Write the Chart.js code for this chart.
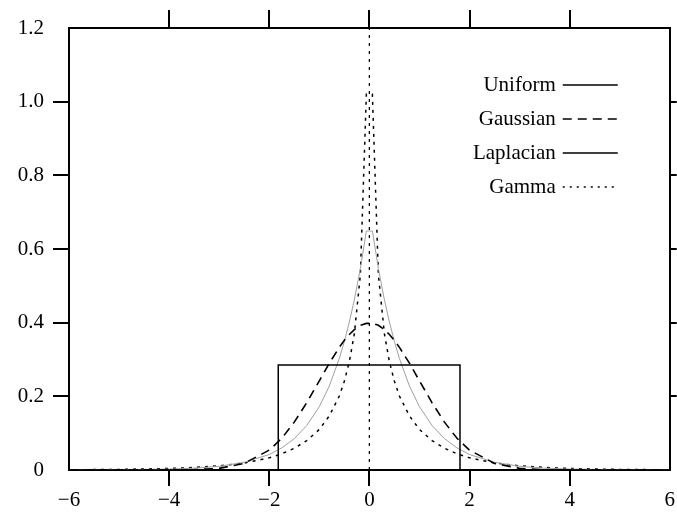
<!DOCTYPE html>
<html>
<head>
<meta charset="utf-8">
<script src="https://cdn.jsdelivr.net/npm/chart.js@4.4.0/dist/chart.umd.min.js"></script>
<style>
body { margin: 0; background: #fff; }
#main { width: 677px; height: 516px; }
</style>
</head>
<body>
<div id="main"></div>
<script>
// values
var xGrid = [-6, -5, -4, -3.5, -3, -2.5, -2, -1.75, -1.5, -1.25, -1, -0.8, -0.6, -0.5, -0.4, -0.3, -0.18, -0.06,
             0.06, 0.18, 0.3, 0.4, 0.5, 0.6, 0.8, 1, 1.25, 1.5, 1.75, 2, 2.5, 3, 3.5, 4, 5, 6];

var gaussianY = [0, 0, 0.0001, 0.0009, 0.0044, 0.018, 0.054, 0.086, 0.13, 0.183, 0.242, 0.29, 0.333, 0.352, 0.368, 0.381, 0.393, 0.398,
                 0.398, 0.393, 0.381, 0.368, 0.352, 0.333, 0.29, 0.242, 0.183, 0.13, 0.086, 0.054, 0.018, 0.0044, 0.0009, 0.0001, 0, 0];

var laplacianY = [0.0001, 0.0006, 0.0025, 0.005, 0.01, 0.021, 0.042, 0.06, 0.085, 0.121, 0.172, 0.228, 0.303, 0.349, 0.402, 0.462, 0.547, 0.649,
                  0.649, 0.547, 0.462, 0.402, 0.349, 0.303, 0.228, 0.172, 0.121, 0.085, 0.06, 0.042, 0.021, 0.01, 0.005, 0.0025, 0.0006, 0.0001];

var gammaY = [0.0006, 0.0015, 0.0041, 0.0068, 0.0113, 0.019, 0.033, 0.044, 0.059, 0.08, 0.11, 0.147, 0.201, 0.241, 0.294, 0.37, 0.53, 1.02,
              1.02, 0.53, 0.37, 0.294, 0.241, 0.201, 0.147, 0.11, 0.08, 0.059, 0.044, 0.033, 0.019, 0.0113, 0.0068, 0.0041, 0.0015, 0.0006];

var uniformX = [-6, -1.82, -1.82, 1.81, 1.81, 6];
var uniformY = [0, 0, 0.285, 0.285, 0, 0];

// gamma goes to infinity at 0 -> vertical dotted line
var spikeX = [0, 0];
var spikeY = [0, 1.2];

var xTicks = [-6, -4, -2, 0, 2, 4, 6];
var yTicks = [0, 0.2, 0.4, 0.6, 0.8, 1.0, 1.2];

const main = document.getElementById('main');
var canvas = document.createElement('canvas');
canvas.width = 677;
canvas.height = 516;
main.appendChild(canvas);

function pairs(xs, ys) {
  return xs.map(function (x, i) { return { x: x, y: ys[i] }; });
}

function isEdge(v, lo, hi) {
  return Math.abs(v - lo) < 1e-9 || Math.abs(v - hi) < 1e-9;
}

var serif = { family: '"Liberation Serif", "Times New Roman", serif', size: 21 };

// legend: text on the left, line sample on the right, inside the plot
var legendBox = {
  id: 'legendBox',
  afterDraw: function (chart) {
    var ctx = chart.ctx;
    var area = chart.chartArea;
    ctx.save();
    ctx.font = '21px "Liberation Serif"';
    ctx.textAlign = 'right';
    ctx.textBaseline = 'middle';
    var row = 0;
    chart.data.datasets.forEach(function (ds) {
      if (!ds.label) return;
      var y = area.top + 57 + row * 34;
      ctx.fillStyle = '#000';
      ctx.fillText(ds.label, area.right - 114, y);
      ctx.strokeStyle = ds.legendColor || ds.borderColor;
      ctx.lineWidth = 1.5;
      ctx.setLineDash(ds.legendDash || ds.borderDash || []);
      ctx.beginPath();
      ctx.moveTo(area.right - 107, y);
      ctx.lineTo(area.right - 52, y);
      ctx.stroke();
      row++;
    });
    ctx.restore();
  }
};

function tickGrid(len, lo, hi) {
  return {
    drawOnChartArea: false,
    drawTicks: true,
    tickLength: len,
    lineWidth: 2,
    color: function (c) { return isEdge(c.tick.value, lo, hi) ? 'rgba(0,0,0,0)' : '#000'; }
  };
}

var border = { display: true, color: '#000', width: 2 };

var myChart = new Chart(canvas, {
  type: 'line',
  data: {
    datasets: [
      {
        label: 'Uniform',
        data: pairs(uniformX, uniformY),
        borderColor: '#000',
        borderWidth: 1.5
      },
      {
        label: 'Gaussian',
        data: pairs(xGrid, gaussianY),
        borderColor: '#000',
        borderWidth: 1.6,
        borderDash: [9, 6]
      },
      {
        label: 'Laplacian',
        data: pairs(xGrid, laplacianY),
        borderColor: '#a0a0a0',
        legendColor: '#000',
        borderWidth: 1
      },
      {
        label: 'Gamma',
        data: pairs(xGrid, gammaY),
        borderColor: '#000',
        borderWidth: 1.5,
        borderDash: [3, 5],
        legendDash: [2, 5]
      },
      {
        label: '',
        data: pairs(spikeX, spikeY),
        borderColor: '#000',
        borderWidth: 1.3,
        borderDash: [3, 5]
      }
    ]
  },
  options: {
    responsive: false,
    animation: false,
    layout: { padding: 0 },
    elements: {
      point: { radius: 0 },
      line: { tension: 0, fill: false }
    },
    plugins: {
      legend: { display: false },
      tooltip: { enabled: false }
    },
    scales: {
      x: {
        type: 'linear',
        position: 'bottom',
        min: -6,
        max: 6,
        afterBuildTicks: function (s) { s.ticks = xTicks.map(function (v) { return { value: v }; }); },
        afterFit: function (s) { s.height = 46; },
        ticks: {
          color: '#000',
          font: serif,
          padding: 2,
          maxRotation: 0,
          callback: function (v) { return v < 0 ? '\u2212' + Math.abs(v) : String(v); }
        },
        grid: tickGrid(16, -6, 6),
        border: border
      },
      xTop: {
        type: 'linear',
        position: 'top',
        min: -6,
        max: 6,
        afterBuildTicks: function (s) { s.ticks = xTicks.map(function (v) { return { value: v }; }); },
        afterFit: function (s) { s.height = 28; },
        ticks: { display: false },
        grid: tickGrid(18, -6, 6),
        border: border
      },
      y: {
        type: 'linear',
        position: 'left',
        min: 0,
        max: 1.2,
        afterBuildTicks: function (s) { s.ticks = yTicks.map(function (v) { return { value: v }; }); },
        afterFit: function (s) { s.width = 69; },
        ticks: {
          color: '#000',
          font: serif,
          padding: 9,
          callback: function (v) { return v === 0 ? '0' : v.toFixed(1); }
        },
        grid: tickGrid(16, 0, 1.2),
        border: border
      },
      yRight: {
        type: 'linear',
        position: 'right',
        min: 0,
        max: 1.2,
        afterBuildTicks: function (s) { s.ticks = yTicks.map(function (v) { return { value: v }; }); },
        afterFit: function (s) { s.width = 7; },
        ticks: { display: false },
        grid: tickGrid(7, 0, 1.2),
        border: border
      }
    }
  },
  plugins: [legendBox]
});
</script>
</body>
</html>
